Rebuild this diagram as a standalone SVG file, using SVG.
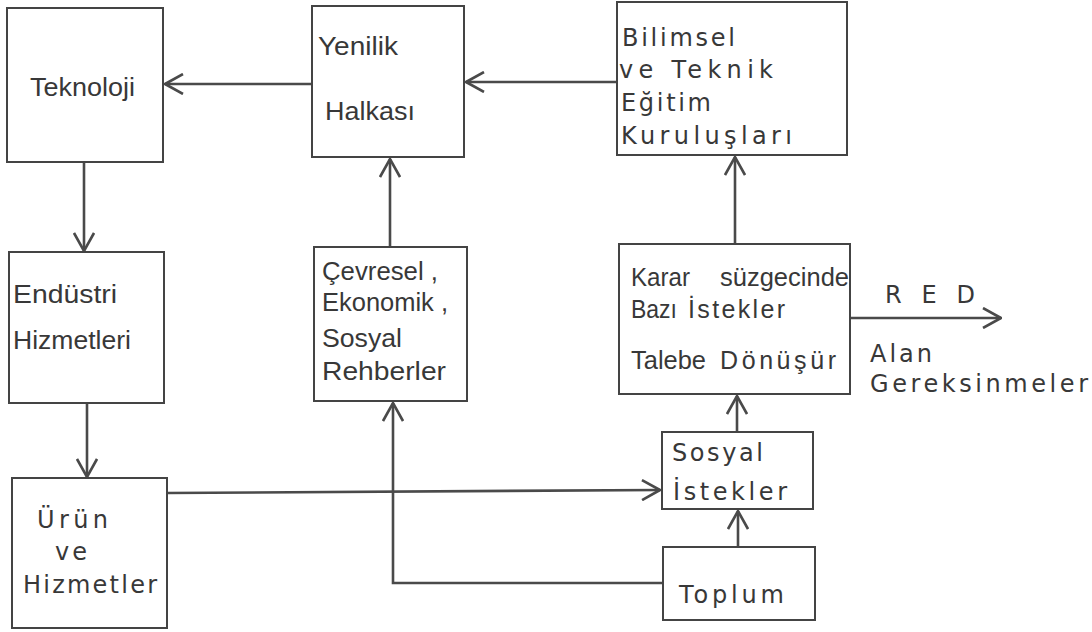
<svg xmlns="http://www.w3.org/2000/svg" width="1092" height="632" viewBox="0 0 1092 632">
<defs>
<style>
.box{fill:#fff;stroke:#444;stroke-width:2}
.con{fill:none;stroke:#4a4a4a;stroke-width:2.6}
.t1{font-family:"Liberation Sans",Arial,sans-serif;font-size:25px;fill:#383838}
.t2{font-family:"DejaVu Sans",Verdana,sans-serif;font-size:24px;fill:#383838}
</style>
<marker id="ah" markerUnits="userSpaceOnUse" viewBox="0 0 20 22" refX="19" refY="11" markerWidth="20" markerHeight="22" orient="auto">
<path d="M1,1 L19,11 L1,21" fill="none" stroke="#4a4a4a" stroke-width="2.6"/>
</marker>
</defs>
<rect width="1092" height="632" fill="#fff"/>

<g id="connectors">
<path class="con" d="M313,84 L165,84" marker-end="url(#ah)"/>
<path class="con" d="M617,82 L466,82" marker-end="url(#ah)"/>
<path class="con" d="M84,162 L84,251" marker-end="url(#ah)"/>
<path class="con" d="M87,403 L87,477" marker-end="url(#ah)"/>
<path class="con" d="M390,247 L390,159" marker-end="url(#ah)"/>
<path class="con" d="M735,243 L735,157" marker-end="url(#ah)"/>
<path class="con" d="M737,432 L737,396" marker-end="url(#ah)"/>
<path class="con" d="M738,547 L738,511" marker-end="url(#ah)"/>
<path class="con" d="M167,493 L660,490" marker-end="url(#ah)"/>
<path class="con" d="M663,583 L393,583 L393,403" marker-end="url(#ah)"/>
<path class="con" d="M850,318 L1001,318" marker-end="url(#ah)"/>
<text class="t2" x="885" y="303" textLength="90">R E D</text>
<text class="t2" x="870" y="362" textLength="62">Alan</text>
<text class="t2" x="870" y="392" textLength="218">Gereksinmeler</text>
</g>

<g id="teknoloji">
<rect class="box" x="7" y="8" width="156" height="154"/>
<text class="t1" x="30" y="96" textLength="105" lengthAdjust="spacingAndGlyphs">Teknoloji</text>
</g>

<g id="yenilik">
<rect class="box" x="312" y="6" width="152" height="151"/>
<text class="t1" x="318" y="55" textLength="80" lengthAdjust="spacingAndGlyphs">Yenilik</text>
<text class="t1" x="325" y="120" textLength="90" lengthAdjust="spacingAndGlyphs">Halkası</text>
</g>

<g id="bilimsel">
<rect class="box" x="617" y="2" width="230" height="153"/>
<text class="t2" x="622" y="46" textLength="113">Bilimsel</text>
<text class="t2" x="619" y="78" textLength="154">ve  Teknik</text>
<text class="t2" x="621" y="111" textLength="90">Eğitim</text>
<text class="t2" x="621" y="144" textLength="171">Kuruluşları</text>
</g>

<g id="endustri">
<rect class="box" x="9" y="252" width="155" height="151"/>
<text class="t1" x="13" y="303" textLength="104" lengthAdjust="spacingAndGlyphs">Endüstri</text>
<text class="t1" x="13" y="349" textLength="118" lengthAdjust="spacingAndGlyphs">Hizmetleri</text>
</g>

<g id="cevresel">
<rect class="box" x="314" y="247" width="153" height="154"/>
<text class="t1" x="322" y="280" textLength="116" lengthAdjust="spacingAndGlyphs">Çevresel ,</text>
<text class="t1" x="322" y="311" textLength="126" lengthAdjust="spacingAndGlyphs">Ekonomik ,</text>
<text class="t1" x="322" y="347" textLength="80" lengthAdjust="spacingAndGlyphs">Sosyal</text>
<text class="t1" x="322" y="380" textLength="124" lengthAdjust="spacingAndGlyphs">Rehberler</text>
</g>

<g id="karar">
<rect class="box" x="619" y="244" width="231" height="150"/>
<text class="t1" x="631" y="286" textLength="59" lengthAdjust="spacingAndGlyphs">Karar</text>
<text class="t1" x="720" y="286" textLength="129" lengthAdjust="spacingAndGlyphs">süzgecinde</text>
<text class="t1" x="631" y="318" textLength="46" lengthAdjust="spacingAndGlyphs">Bazı</text>
<text class="t1" x="688" y="318" textLength="97">İstekler</text>
<text class="t1" x="631" y="369" textLength="75" lengthAdjust="spacingAndGlyphs">Talebe</text>
<text class="t1" x="720" y="369" textLength="116">Dönüşür</text>
</g>

<g id="sosyal-istekler">
<rect class="box" x="662" y="432" width="151" height="77"/>
<text class="t2" x="672" y="461" textLength="91">Sosyal</text>
<text class="t2" x="673" y="500" textLength="114">İstekler</text>
</g>

<g id="toplum">
<rect class="box" x="663" y="547" width="152" height="73"/>
<text class="t2" x="679" y="603" textLength="105">Toplum</text>
</g>

<g id="urun">
<rect class="box" x="12" y="478" width="155" height="150"/>
<text class="t2" x="37" y="528" textLength="71">Ürün</text>
<text class="t2" x="55" y="560" textLength="32">ve</text>
<text class="t2" x="23" y="593" textLength="134">Hizmetler</text>
</g>
</svg>
